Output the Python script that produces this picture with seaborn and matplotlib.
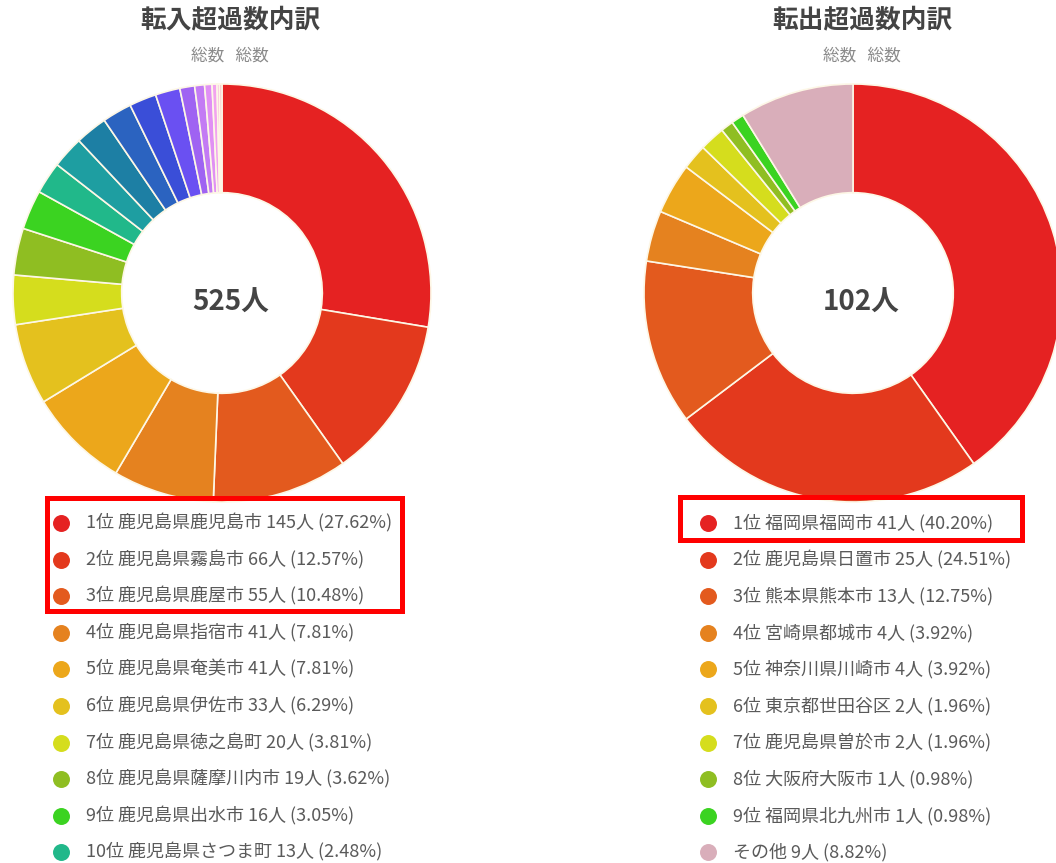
import matplotlib

matplotlib.use("Agg")

import seaborn as sns
from matplotlib import pyplot as plt
from matplotlib.patches import Rectangle

# 転入超過 (left chart)
in_names = [
    "鹿児島県鹿児島市",
    "鹿児島県霧島市",
    "鹿児島県鹿屋市",
    "鹿児島県指宿市",
    "鹿児島県奄美市",
    "鹿児島県伊佐市",
    "鹿児島県徳之島町",
    "鹿児島県薩摩川内市",
    "鹿児島県出水市",
    "鹿児島県さつま町",
]
in_counts = [145, 66, 55, 41, 41, 33, 20, 19, 16, 13]
# slices below the visible legend (11位〜)
in_rest_counts = [13, 13, 12, 11, 10, 6, 4, 3, 2, 1, 1]

# 転出超過 (right chart)
out_names = [
    "福岡県福岡市",
    "鹿児島県日置市",
    "熊本県熊本市",
    "宮崎県都城市",
    "神奈川県川崎市",
    "東京都世田谷区",
    "鹿児島県曽於市",
    "大阪府大阪市",
    "福岡県北九州市",
    "その他",
]
out_counts = [41, 25, 13, 4, 4, 2, 2, 1, 1, 9]

rank_colors = [
    "#e52222", "#e3391d", "#e35a1e", "#e5821f", "#eca71b",
    "#e4c11e", "#d5dd1d", "#8fbe22", "#3bd321", "#21b88a",
    "#1e9ea1", "#1d7fa4", "#2b63c0", "#3a4ed8", "#6a50f2",
    "#9f63f2", "#c37bf4", "#e090f4", "#f2a2ef", "#f6b0dd",
    "#f7b8c6",
]
other_color = "#d9aeba"

W, H = 1056, 863
R = 209
EDGE = "#fdf7e6"

sns.set_theme(style="white")
plt.rcParams["font.family"] = ["Noto Sans CJK JP", "DejaVu Sans"]

fig = plt.figure(figsize=(W / 100, H / 100), dpi=100)


def donut(cx, cy, counts, colors):
    ax = fig.add_axes([(cx - R) / W, (H - cy - R) / H, 2 * R / W, 2 * R / H])
    ax.pie(
        counts,
        colors=colors,
        startangle=90,
        counterclock=False,
        radius=1,
        wedgeprops=dict(width=0.52, edgecolor=EDGE, linewidth=1.2),
    )
    ax.set_xlim(-1, 1)
    ax.set_ylim(-1, 1)
    # total label sits a little right of / below the ring centre
    ax.text(0.04, -0.045, f"{sum(counts)}人", ha="center", va="center",
            fontsize=20, fontweight="bold", color="#444444")
    return ax


left_counts = in_counts + in_rest_counts
donut(222, 293, left_counts, rank_colors[: len(left_counts)])
right_colors = rank_colors[: len(out_counts) - 1] + [other_color]
donut(853, 293, out_counts, right_colors)

# overlay in pixel coordinates for titles and legends
ov = fig.add_axes([0, 0, 1, 1])
ov.set_xlim(0, W)
ov.set_ylim(H, 0)
ov.axis("off")
ov.patch.set_alpha(0)

for x, title in [(230, "転入超過数内訳"), (862, "転出超過数内訳")]:
    ov.text(x, 20, title, ha="center", va="center", fontsize=18.5,
            fontweight="bold", color="#444444")
    ov.text(x, 56, "総数   総数", ha="center", va="center", fontsize=12,
            color="#8a8a8a")


def legend(x_dot, x_text, names, counts, colors, total):
    for i, (name, n) in enumerate(zip(names, counts)):
        y = 523 + i * 36.6
        label = name if name == "その他" else f"{i + 1}位 {name}"
        ov.scatter([x_dot], [y], s=125, color=colors[i], zorder=3)
        ov.text(x_text, y, f"{label} {n}人 ({n / total * 100:.2f}%)",
                ha="left", va="center", fontsize=13, color="#5a5a5a")


legend(61, 86, in_names, in_counts, rank_colors, sum(left_counts))
legend(708, 733, out_names, out_counts, right_colors, sum(out_counts))

ov.add_patch(Rectangle((46.5, 497.5), 355, 113, fill=False,
                       edgecolor="#ff0000", linewidth=3.6, zorder=4))
ov.add_patch(Rectangle((680, 497), 342, 42.5, fill=False,
                       edgecolor="#ff0000", linewidth=3.6, zorder=4))

fig.savefig("out.png", dpi=100)
